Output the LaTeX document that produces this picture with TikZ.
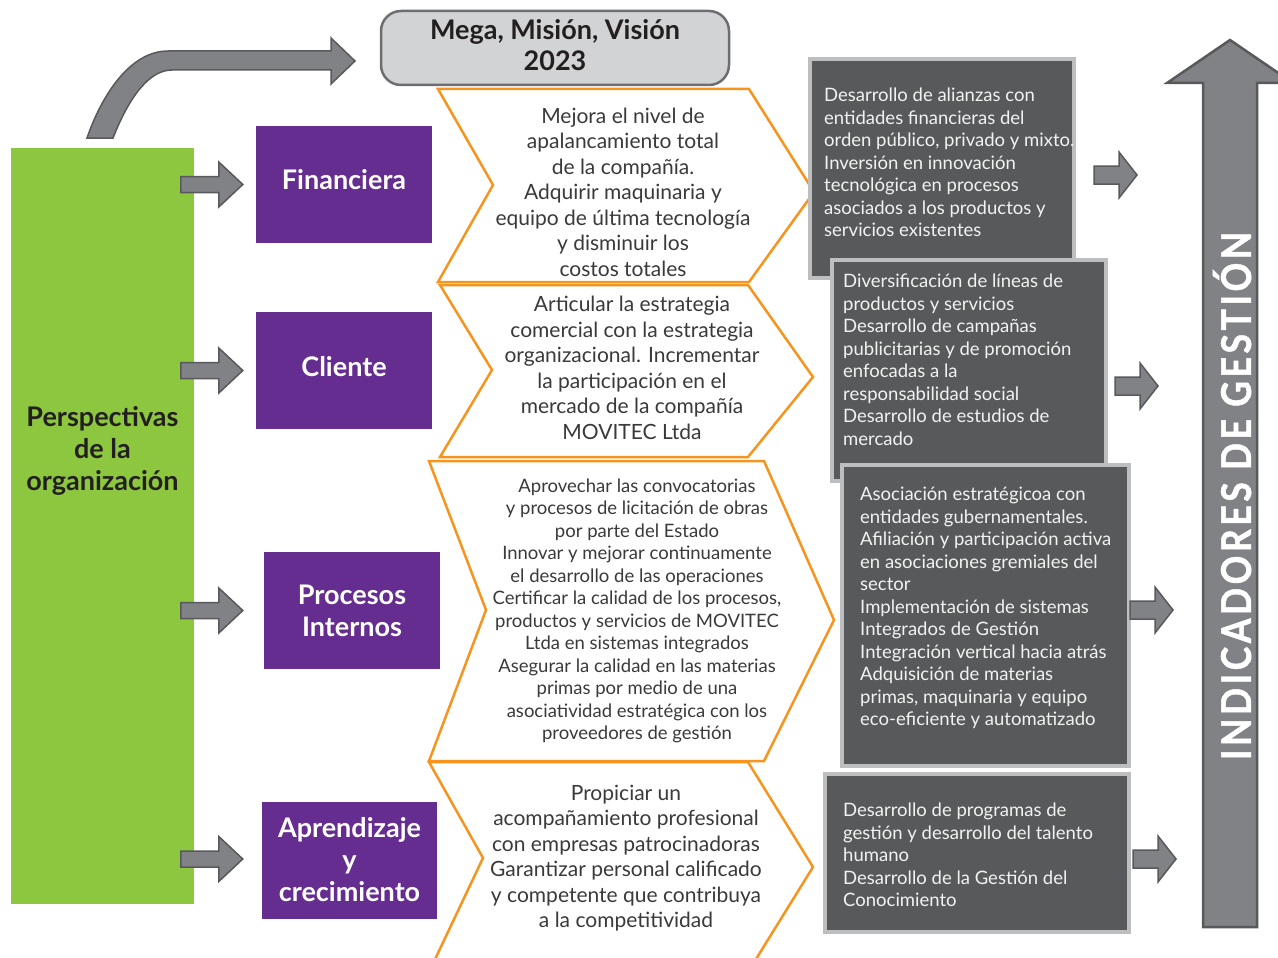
\documentclass[tikz,border=0pt]{standalone}
\usepackage{fontspec}
\usepackage{graphicx}
\setmainfont{Lato}
\newfontfamily\indfont[LetterSpace=10,BoldFeatures={FakeBold=1.2}]{Lato}
\usetikzlibrary{calc}
\definecolor{persgreen}{HTML}{8DC63F}
\definecolor{perspurple}{HTML}{662D91}
\definecolor{chevorange}{HTML}{F7941D}
\definecolor{darkbox}{HTML}{58595B}
\definecolor{boxborder}{HTML}{BCBEC0}
\definecolor{arrowfill}{HTML}{808285}
\definecolor{arrowline}{HTML}{58595B}
\definecolor{megafill}{HTML}{D1D3D4}
\definecolor{megaline}{HTML}{6D6E71}
\definecolor{bodytext}{HTML}{3A3A3C}
\definecolor{boxtext}{HTML}{F1F2F2}
\definecolor{headtext}{HTML}{231F20}
\newsavebox\indbox
\tikzset{
  blockarrow/.style={fill=arrowfill,draw=arrowline,line width=1.5pt,line join=miter},
  chev/.style={draw=chevorange,fill=white,line width=2.5pt,line join=miter},
  persbox/.style={fill=perspurple,text=white,font=\bfseries\fontsize{27}{32}\selectfont,align=center,inner sep=0pt,minimum width=176pt,minimum height=117pt},
  perslabel/.style={text=white,font=\bfseries\fontsize{27}{32}\selectfont,align=center,inner sep=0pt},
  darkpanel/.style={fill=darkbox,draw=boxborder,line width=4pt,inner sep=0pt},
  paneltext/.style={text=boxtext,font=\fontsize{18.5}{22.5}\selectfont,align=left,inner sep=0pt,anchor=north west},
  chevtext/.style={text=bodytext,font=\fontsize{21}{25.5}\selectfont,align=center,inner sep=0pt},
  pics/barrow/.style n args={4}{code={
    \draw[blockarrow] (0,-#3) -- (#1-#2,-#3) -- (#1-#2,-#4) -- (#1,0) -- (#1-#2,#4) -- (#1-#2,#3) -- (0,#3) -- cycle;}}
}
\begin{document}
\sbox\indbox{\color{white}\indfont\bfseries\fontsize{41}{41}\selectfont INDICADORES DE GESTIÓN}%
\pgfmathsetmacro\indscale{528/\the\wd\indbox}%
\begin{tikzpicture}[x=1pt,y=-1pt]
\useasboundingbox (0,0) rectangle (1278,958);
\begin{scope}
\clip (0,0) rectangle (1278,958);

% green perspective column
\node[fill=persgreen,minimum width=183pt,minimum height=756pt,inner sep=0pt] (persp) at (102.5,526) {};
\node[text=headtext,font=\bfseries\fontsize{27}{32}\selectfont,align=center,inner sep=0pt] (persptext) at (102.5,451) {Perspectivas\\de la\\organización};

% curved arrow to mega
\draw[blockarrow] (87,138) .. controls (100,100) and (128,51) .. (168,51) -- (331,51) -- (331,38) -- (355,61) -- (331,84) -- (331,70) -- (172,70) .. controls (150,70) and (130,95) .. (113,138) -- cycle;

% mega box
\node[fill=megafill,draw=megaline,line width=2.5pt,rounded corners=20pt,minimum width=348pt,minimum height=74pt,inner sep=0pt] (mega) at (555,48) {};
\node[align=center,inner sep=0pt,text=headtext,font=\bfseries\fontsize{27}{31}\selectfont] (megatext) at (555,45.5) {Mega, Misión, Visión\\2023};

% purple perspective boxes
\node[persbox] (fin) at (344,184.5) {};
\node[perslabel] (fintext) at (344,180) {Financiera};
\node[persbox] (cli) at (344,370.5) {};
\node[perslabel] (clitext) at (344,367) {Cliente};
\node[persbox] (proc) at (352,610.5) {Procesos\\Internos};
\node[persbox,minimum width=175pt] (apr) at (349.5,860) {Aprendizaje\\y\\crecimiento};

% arrows green -> purple
\pic at ($(fin.west)+(-75,0)$) {barrow={62}{24}{8}{22.5}};
\pic at ($(cli.west)+(-75,0)$) {barrow={62}{24}{8}{22.5}};
\pic at ($(proc.west)+(-83,0)$) {barrow={62}{24}{8}{22.5}};
\pic at ($(apr.west)+(-81,-1)$) {barrow={62}{24}{8}{22.5}};

% chevrons
\draw[chev] (438,89) -- (749,89) -- (814,192) -- (749,282) -- (438,282) -- (493,185) -- cycle;
\draw[chev] (440,285) -- (748,285) -- (813,377) -- (748,457) -- (440,457) -- (492,370) -- cycle;
\draw[chev] (429,461) -- (764,461) -- (834,620) -- (764,761) -- (429,761) -- (486,610) -- cycle;
\draw[chev] (429,762) -- (748,762) -- (813,867) -- (748,972) -- (429,972) -- (483,858) -- cycle;

\node[chevtext] (c1) at (623,192) {Mejora el nivel de\\apalancamiento total\\de la compañía.\\Adquirir maquinaria y\\equipo de última tecnología\\y disminuir los\\costos totales};
\node[chevtext] (c2) at (632,368) {Articular la estrategia\\comercial con la estrategia\\organizacional. Incrementar\\la participación en el\\mercado de la compañía\\MOVITEC Ltda};
\node[chevtext,font=\fontsize{18.5}{22.5}\selectfont] (c3) at (637,611) {Aprovechar las convocatorias\\y procesos de licitación de obras\\por parte del Estado\\Innovar y mejorar continuamente\\el desarrollo de las operaciones\\Certificar la calidad de los procesos,\\productos y servicios de MOVITEC\\Ltda en sistemas integrados\\Asegurar la calidad en las materias\\primas por medio de una\\asociatividad estratégica con los\\proveedores de gestión};
\node[chevtext] (c4) at (626,858) {Propiciar un\\acompañamiento profesional\\con empresas patrocinadoras\\Garantizar personal calificado\\y competente que contribuya\\a la competitividad};

% dark panels
\node[darkpanel,minimum width=264pt,minimum height=219pt] (p1) at (942,168.5) {};
\node[paneltext] (t1) at (824,88) {Desarrollo de alianzas con\\entidades financieras del\\orden público, privado y mixto.\\Inversión en innovación\\tecnológica en procesos\\asociados a los productos y\\servicios existentes};
\node[darkpanel,minimum width=274pt,minimum height=221pt] (p2) at (969,370.5) {};
\node[paneltext] (t2) at (843,274) {Diversificación de líneas de\\productos y servicios\\Desarrollo de campañas\\publicitarias y de promoción\\enfocadas a la\\responsabilidad social\\Desarrollo de estudios de\\mercado};
\node[darkpanel,minimum width=287pt,minimum height=301pt] (p3) at (985.5,615.5) {};
\node[paneltext] (t3) at (860,487) {Asociación estratégicoa con\\entidades gubernamentales.\\Afiliación y participación activa\\en asociaciones gremiales del\\sector\\Implementación de sistemas\\Integrados de Gestión\\Integración vertical hacia atrás\\Adquisición de materias\\primas, maquinaria y equipo\\eco-eficiente y automatizado};
\node[darkpanel,minimum width=304pt,minimum height=158pt] (p4) at (977,853) {};
\node[paneltext] (t4) at (843,803) {Desarrollo de programas de\\gestión y desarrollo del talento\\humano\\Desarrollo de la Gestión del\\Conocimiento};

% arrows panels -> indicators
\pic at (1094,175) {barrow={43}{18}{9}{23}};
\pic at (1115,386) {barrow={43}{18}{9}{23}};
\pic at (1130,610) {barrow={43}{18}{9}{23}};
\pic at (1133,859) {barrow={43}{18}{9}{23}};

% big indicator arrow
\draw[blockarrow,line width=2.5pt] (1203,927) -- (1203,83) -- (1167,83) -- (1230,40) -- (1293,83) -- (1257,83) -- (1257,927) -- cycle;
\node[rotate=90,inner sep=0pt] (ind) at (1232,496) {\scalebox{\indscale}[1]{\usebox\indbox}};
\end{scope}
\end{tikzpicture}
\end{document}
